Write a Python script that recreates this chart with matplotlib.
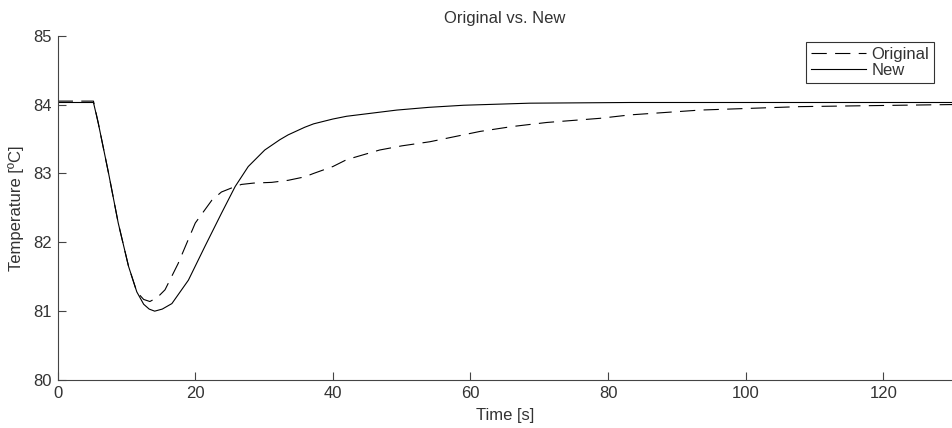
import matplotlib
matplotlib.use("Agg")
import matplotlib.pyplot as plt

# values
t_orig = [0, 5.2, 5.9, 7.4, 8.8, 10.3, 11.5, 12.5, 13.4, 14.5, 15.6, 17.5, 20.0,
          22.4, 23.8, 25.3, 26.7, 28.5, 31.1, 33.5, 35.9, 37.2, 40, 42, 46.8, 50,
          54.1, 61.4, 66, 71.1, 78.8, 83.2, 93.4, 107.9, 122.4, 130]
temp_orig = [84.05, 84.05, 83.73, 83.0, 82.28, 81.65, 81.28, 81.17, 81.14, 81.2,
             81.31, 81.69, 82.28, 82.61, 82.73, 82.79, 82.84, 82.86, 82.87, 82.9,
             82.95, 83.0, 83.1, 83.2, 83.34, 83.4, 83.46, 83.61, 83.68, 83.74,
             83.8, 83.85, 83.92, 83.97, 83.99, 84.0]

t_new = [0, 5.2, 5.9, 7.4, 8.8, 10.3, 11.5, 12.5, 13.3, 14.1, 15.2, 16.6, 19.0,
         21.4, 23.8, 25.8, 27.7, 30.1, 32.3, 33.5, 35.9, 37.2, 40, 42, 49.3, 54,
         59, 68.6, 83.2, 130]
temp_new = [84.03, 84.03, 83.73, 83.0, 82.28, 81.65, 81.28, 81.1, 81.03, 81.0,
            81.03, 81.11, 81.45, 81.94, 82.42, 82.81, 83.1, 83.34, 83.49, 83.56,
            83.67, 83.72, 83.79, 83.83, 83.92, 83.96, 83.99, 84.02, 84.03, 84.03]

x_ticks = [0, 20, 40, 60, 80, 100, 120]
y_ticks = [80, 81, 82, 83, 84, 85]

plt.rcParams['font.family'] = ['Liberation Sans', 'DejaVu Sans']
plt.rcParams['lines.scale_dashes'] = False

fig = plt.figure(figsize=(9.52, 4.28), dpi=100)
ax = fig.add_axes([0.0606, 0.1121, 0.9394, 0.8045])

ax.plot(t_orig, temp_orig, color='black', linewidth=0.8, dashes=(11, 6),
        label='Original')
ax.plot(t_new, temp_new, color='black', linewidth=0.8, label='New')

ax.set_xlim(0, 130)
ax.set_ylim(80, 85)
ax.set_xticks(x_ticks)
ax.set_yticks(y_ticks)

for side in ['top', 'right']:
    ax.spines[side].set_visible(False)
for side in ['left', 'bottom']:
    ax.spines[side].set_color('#444444')
    ax.spines[side].set_linewidth(0.8)

ax.tick_params(direction='in', length=6, width=0.8, color='#444444',
               labelsize=12, labelcolor='#333333', pad=4)

ax.set_title('Original vs. New', fontsize=12, color='#333333', pad=9)
ax.set_xlabel('Time [s]', fontsize=12, color='#333333', labelpad=5)
ax.set_ylabel('Temperature [ºC]', fontsize=12, color='#333333', labelpad=7)

leg = ax.legend(loc='upper right', bbox_to_anchor=(934 / 952, 1 - 41.7 / 428),
                bbox_transform=fig.transFigure, borderaxespad=0,
                fontsize=12, fancybox=False, handlelength=3.3,
                handletextpad=0.3, borderpad=0.3, labelspacing=0.05)
leg.get_frame().set_edgecolor('black')
leg.get_frame().set_linewidth(0.8)
for txt in leg.get_texts():
    txt.set_color('#333333')

fig.savefig('out.png', dpi=100)
